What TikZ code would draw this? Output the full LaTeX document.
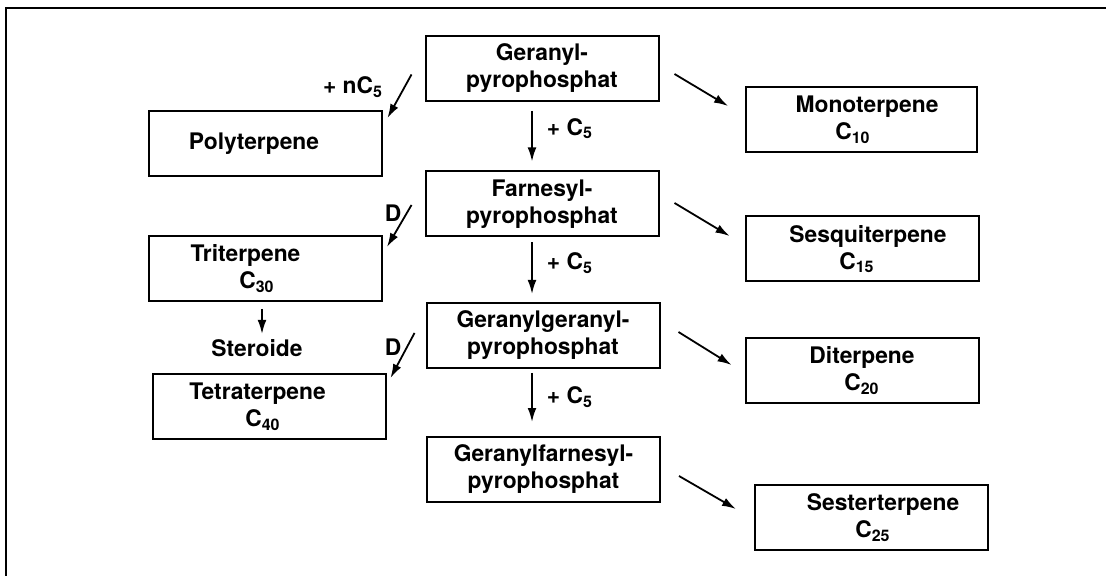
\documentclass[tikz,border=0pt]{standalone}
\usepackage{fontspec}
\setmainfont{TeX Gyre Heros}
\usetikzlibrary{arrows.meta}

\begin{document}
\begin{tikzpicture}[x=0.5pt, y=-0.5pt,
    box/.style={shape=rectangle, draw, line width=1pt, minimum width=116.5pt, minimum height=32.5pt, align=center, inner sep=0pt, font=\fontsize{11.4}{13.5}\selectfont\bfseries},
    lbl/.style={font=\fontsize{11.4}{13.5}\selectfont\bfseries, inner sep=1pt},
    arr/.style={line width=0.9pt, -{Latex[length=7pt, width=4.4pt]}}]
    	\useasboundingbox (0,0) rectangle (1106,576);
    	% Frame:
    	\draw[line width=1pt] (1106,8) -- (6,8) -- (6,576);
    	% Boxes, middle column:
    	\node[box] (geranyl) at (542,68.5) {Geranyl-\\pyrophosphat};
    	\node[box] (farnesyl) at (542,204) {Farnesyl-\\pyrophosphat};
    	\node[box] (ggpp) at (543,335.5) {Geranylgeranyl-\\pyrophosphat};
    	\node[box] (gfpp) at (543.5,469.5) {Geranylfarnesyl-\\pyrophosphat};
    	% Boxes, left column:
    	\node[box] (poly) at (265,143.5) {Polyterpene\hspace*{11pt}};
    	\node[box] (tri) at (265.5,268.5) {Triterpene\hspace*{20pt}\\C\textsubscript{30}\hspace*{8.5pt}};
    	\node[lbl] (steroide) at (257,348) {Steroide};
    	\node[box] (tetra) at (269,406.5) {Tetraterpene\hspace*{11.5pt}\\C\textsubscript{40}\hspace*{6pt}};
    	% Boxes, right column:
    	\node[box, minimum width=115.5pt] (mono) at (861.5,119.5) {\hspace*{5.5pt}Monoterpene\\C\textsubscript{10}\hspace*{8.5pt}};
    	\node[box] (sesqui) at (862,249) {\hspace*{6pt}Sesquiterpene\\C\textsubscript{15}\hspace*{5pt}};
    	\node[box] (di) at (862,370.5) {Diterpene\\C\textsubscript{20}};
    	\node[box] (sester) at (871.5,517.5) {\hspace*{11.5pt}Sesterterpene\\\hspace*{1.5pt}C\textsubscript{25}};
    	% Arrows down the middle:
    	\draw[arr] ([shift={(-10,9)}]geranyl.south) -- node[lbl, right=6pt, pos=0.35] (c5a) {+ C\textsubscript{5}} ([shift={(-10,-9)}]farnesyl.north);
    	\draw[arr] ([shift={(-10,5)}]farnesyl.south) -- node[lbl, right=6pt, pos=0.4] (c5b) {+ C\textsubscript{5}} ([shift={(-11,-8)}]ggpp.north);
    	\draw[arr] ([shift={(-11,4)}]ggpp.south) -- node[lbl, right=6pt, pos=0.49] (c5c) {+ C\textsubscript{5}} ([shift={(-11.5,-14)}]gfpp.north);
    	% Arrows to the left:
    	\draw[arr] ([shift={(-13,6)}]geranyl.west) -- ([shift={(5,8)}]poly.north east);
    	\draw[arr] ([shift={(-13,1)}]farnesyl.west) -- ([shift={(4,12)}]tri.north east);
    	\draw[arr] ([shift={(-11,-2.5)}]ggpp.west) -- ([shift={(4,5)}]tetra.north east);
    	\draw[arr] ([shift={(-3.5,7)}]tri.south) -- ([shift={(5,-3)}]steroide.north);
    	\node[lbl] (nc5) at (353,87) {+ nC\textsubscript{5}};
    	\node[lbl] (d1) at (393,213) {D};
    	\node[lbl] (d2) at (393,347) {D};
    	% Arrows to the right:
    	\draw[arr] ([shift={(15,5.5)}]geranyl.east) -- ([shift={(-17,-13.5)}]mono.west);
    	\draw[arr] ([shift={(15,-1)}]farnesyl.east) -- ([shift={(-15,-13)}]sesqui.west);
    	\draw[arr] ([shift={(18,-3.5)}]ggpp.east) -- ([shift={(-13,-5.5)}]di.west);
    	\draw[arr] ([shift={(18,6.5)}]gfpp.east) -- ([shift={(-18,-8.5)}]sester.west);
    \end{tikzpicture}
\end{document}
